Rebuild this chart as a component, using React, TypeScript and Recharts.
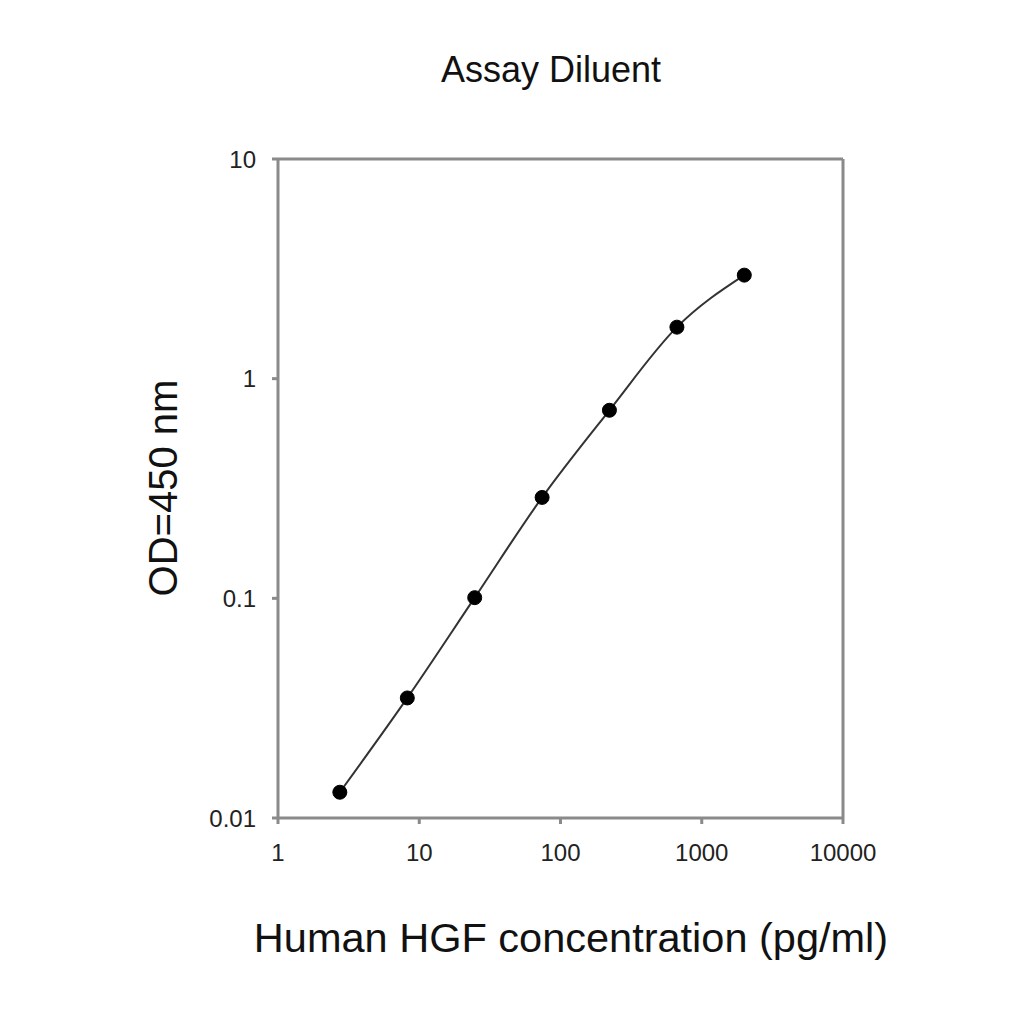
import React from 'react'
import {
  ComposedChart,
  Line,
  XAxis,
  YAxis,
  ReferenceLine,
} from 'recharts'

// HGF standard curve, 3-fold dilutions from 2000 pg/ml
const concentrations = [2.74, 8.23, 24.7, 74.1, 222, 667, 2000]
const odValues = [0.0131, 0.0352, 0.1007, 0.288, 0.718, 1.716, 2.96]
const xTicks = [1, 10, 100, 1000, 10000]
const yTicks = [0.01, 0.1, 1, 10]

const chartData = concentrations.map((c, i) => ({ conc: c, od: odValues[i] }))

const FONT = '"Liberation Sans", Arial, Helvetica, sans-serif'
const AXIS = '#8a8a8a'

export default function App() {
  return (
    <div style={{ position: 'relative', width: 1000, height: 1000, fontFamily: FONT }}>
      <div
        style={{
          position: 'absolute',
          left: 543,
          top: 62,
          transform: 'translate(-50%, -50%)',
          fontSize: 36,
          color: '#111',
          whiteSpace: 'nowrap',
        }}
      >
        Assay Diluent
      </div>
      <div
        style={{
          position: 'absolute',
          left: 155,
          top: 480,
          transform: 'translate(-50%, -50%) rotate(-90deg)',
          fontSize: 40,
          color: '#111',
          whiteSpace: 'nowrap',
        }}
      >
        OD=450 nm
      </div>
      <div
        style={{
          position: 'absolute',
          left: 563,
          top: 930,
          transform: 'translate(-50%, -50%)',
          fontSize: 41.5,
          color: '#111',
          whiteSpace: 'nowrap',
        }}
      >
        Human HGF concentration (pg/ml)
      </div>

      <ComposedChart
        width={1000}
        height={1000}
        data={chartData}
        margin={{ top: 151, right: 165, bottom: 130, left: 210 }}
      >
        <XAxis
          dataKey="conc"
          type="number"
          scale="log"
          domain={[1, 10000]}
          ticks={xTicks}
          allowDataOverflow
          height={60}
          stroke={AXIS}
          strokeWidth={3}
          tickSize={6}
          tickMargin={20}
          tick={{ fontSize: 24, fill: '#222', fontFamily: FONT }}
          tickFormatter={(v) => String(v)}
        />
        <YAxis
          dataKey="od"
          type="number"
          scale="log"
          domain={[0.01, 10]}
          ticks={yTicks}
          allowDataOverflow
          width={60}
          stroke={AXIS}
          strokeWidth={3}
          tickSize={6}
          tickMargin={16}
          tick={{ fontSize: 24, fill: '#222', fontFamily: FONT }}
          tickFormatter={(v) => String(v)}
        />
        <ReferenceLine y={10} stroke={AXIS} strokeWidth={3} />
        <ReferenceLine x={10000} stroke={AXIS} strokeWidth={3} />
        <Line
          dataKey="od"
          type="monotone"
          stroke="#333"
          strokeWidth={2}
          dot={{ r: 7, fill: '#000', stroke: '#000', strokeWidth: 1 }}
          activeDot={false}
          isAnimationActive={false}
        />
      </ComposedChart>
    </div>
  )
}
